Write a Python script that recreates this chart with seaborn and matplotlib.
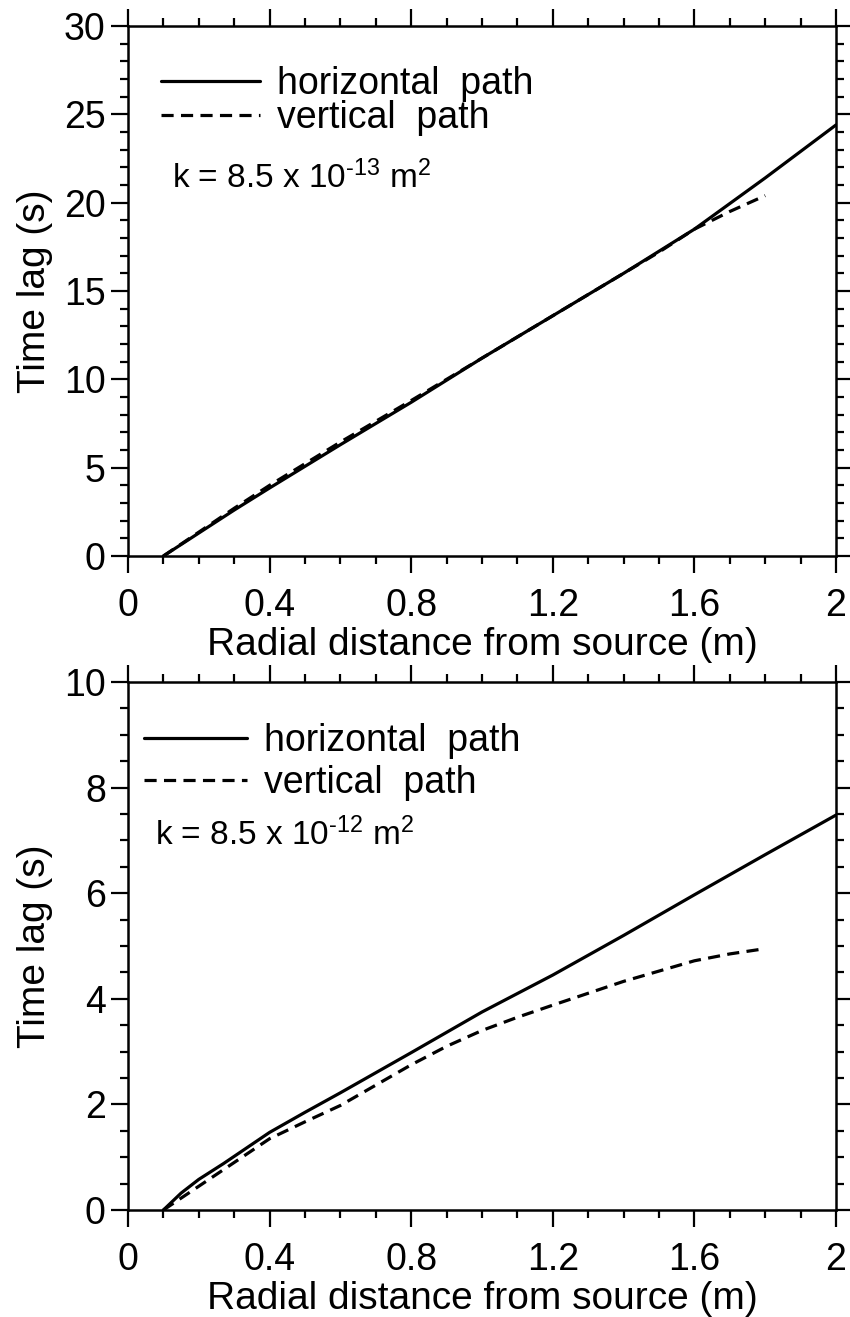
import matplotlib
matplotlib.use("Agg")
import matplotlib.pyplot as plt
import seaborn as sns
import pandas as pd
from matplotlib.ticker import MultipleLocator

# ---------------- data ----------------
# Top panel: k = 8.5e-13 m^2
top_h_x = [0.1, 0.2, 0.3, 0.4, 0.6, 0.8, 1.0, 1.2, 1.4, 1.6, 1.8, 2.0]
top_h_y = [0.0, 1.3, 2.6, 3.85, 6.3, 8.7, 11.2, 13.6, 16.0, 18.5, 21.4, 24.4]
top_v_x = [0.1, 0.2, 0.3, 0.4, 0.6, 0.8, 1.0, 1.2, 1.4, 1.5, 1.6, 1.7, 1.8]
top_v_y = [0.0, 1.35, 2.7, 4.0, 6.45, 8.8, 11.2, 13.6, 16.0, 17.2, 18.5, 19.5, 20.4]

# Bottom panel: k = 8.5e-12 m^2
bot_h_x = [0.1, 0.15, 0.2, 0.27, 0.4, 0.5, 0.6, 0.8, 1.0, 1.2, 1.4, 1.6, 1.8, 2.0]
bot_h_y = [0.0, 0.32, 0.58, 0.88, 1.47, 1.85, 2.22, 2.98, 3.75, 4.45, 5.2, 5.97, 6.73, 7.48]
bot_v_x = [0.1, 0.2, 0.3, 0.4, 0.5, 0.6, 0.8, 0.9, 1.0, 1.1, 1.2, 1.4, 1.6, 1.7, 1.8]
bot_v_y = [0.0, 0.45, 0.9, 1.35, 1.67, 1.98, 2.75, 3.1, 3.4, 3.65, 3.88, 4.33, 4.72, 4.85, 4.95]

x_ticks = [0, 0.4, 0.8, 1.2, 1.6, 2]
x_ticklabels = ["0", "0.4", "0.8", "1.2", "1.6", "2"]
top_yticks = [0, 5, 10, 15, 20, 25, 30]
bot_yticks = [0, 2, 4, 6, 8, 10]

legend_labels = ["horizontal  path", "vertical  path"]
k_labels = ["k = 8.5 x 10$^{\\mathregular{\u201013}}$ m$^{\\mathregular{2}}$",
            "k = 8.5 x 10$^{\\mathregular{\u201012}}$ m$^{\\mathregular{2}}$"]
xlabel = "Radial distance from source (m)"
ylabel = "Time lag (s)"

# ---------------- style ----------------
sns.set_style("ticks")
plt.rcParams["font.family"] = ["Liberation Sans", "DejaVu Sans"]
plt.rcParams["mathtext.fontset"] = "custom"
plt.rcParams["mathtext.rm"] = "Liberation Sans"
plt.rcParams["mathtext.it"] = "Liberation Sans"
for key in ["text.color", "axes.labelcolor", "xtick.color", "ytick.color",
            "axes.edgecolor"]:
    plt.rcParams[key] = "black"

W, H = 850, 1317
fig = plt.figure(figsize=(W / 100, H / 100), dpi=100)
left = 128 / W
width = 708 / W
ax_top = fig.add_axes([left, 1 - 556 / H, width, 530 / H])
ax_bot = fig.add_axes([left, 1 - 1210 / H, width, 528 / H])

LW = 2.3
DASH = (0, (3.8, 2.3))


def draw(ax, hx, hy, vx, vy, ymax, yticks, ymin_step, klab, leg_anchor,
         k_pos, labsp, hlen):
    dh = pd.DataFrame({"x": hx, "y": hy})
    dv = pd.DataFrame({"x": vx, "y": vy})
    sns.lineplot(data=dh, x="x", y="y", ax=ax, color="black", lw=LW,
                 label=legend_labels[0])
    sns.lineplot(data=dv, x="x", y="y", ax=ax, color="black", lw=LW,
                 linestyle=DASH, label=legend_labels[1])
    ax.set_xlim(0, 2)
    ax.set_ylim(0, ymax)
    ax.set_xticks(x_ticks)
    ax.set_xticklabels(x_ticklabels)
    ax.set_yticks(yticks)
    ax.xaxis.set_minor_locator(MultipleLocator(0.1))
    ax.yaxis.set_minor_locator(MultipleLocator(ymin_step))
    ax.tick_params(which="both", direction="out", top=True, right=True,
                   width=1.6, colors="black", labelsize=27)
    ax.tick_params(which="major", length=12)
    ax.tick_params(which="minor", length=6)
    ax.tick_params(axis="x", which="major", pad=11)
    ax.tick_params(axis="y", which="major", pad=4)
    for s in ax.spines.values():
        s.set_linewidth(1.8)
        s.set_color("black")
    ax.set_xlabel(xlabel, fontsize=28, labelpad=2)
    ax.set_ylabel(ylabel, fontsize=28, labelpad=8)
    ax.legend(loc="upper left", bbox_to_anchor=leg_anchor, frameon=False,
              fontsize=27, handlelength=hlen, handletextpad=0.45,
              borderaxespad=0, borderpad=0, labelspacing=labsp)
    ax.text(k_pos[0], k_pos[1], klab, transform=ax.transAxes, fontsize=24,
            ha="left", va="center")


draw(ax_top, top_h_x, top_h_y, top_v_x, top_v_y, 30, top_yticks, 1,
     k_labels[0], (0.046, 0.925), (0.062, 0.713), -0.04, 2.65)
draw(ax_bot, bot_h_x, bot_h_y, bot_v_x, bot_v_y, 10, bot_yticks, 0.5,
     k_labels[1], (0.022, 0.923), (0.038, 0.71), 0.18, 2.75)

fig.savefig("out.png", dpi=100, facecolor="white")
